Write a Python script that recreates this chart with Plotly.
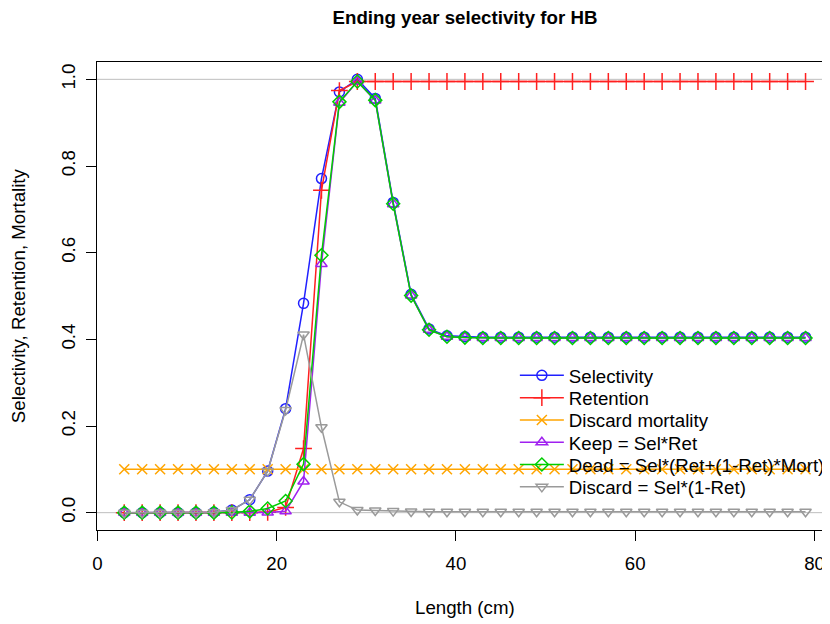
import plotly.graph_objects as go

# ---------------- data ----------------
length_cm = [3, 5, 7, 9, 11, 13, 15, 17, 19, 21, 23, 25, 27, 29, 31, 33, 35, 37, 39,
             41, 43, 45, 47, 49, 51, 53, 55, 57, 59, 61, 63, 65, 67, 69, 71, 73, 75, 77, 79]

selectivity = [0, 0, 0, 0, 0, 0.001, 0.006, 0.030, 0.096, 0.240, 0.483, 0.771, 0.971,
               1.000, 0.956, 0.716, 0.504, 0.424, 0.408,
               0.406, 0.405, 0.405, 0.405, 0.405, 0.405, 0.405, 0.405, 0.405, 0.405,
               0.405, 0.405, 0.405, 0.405, 0.405, 0.405, 0.405, 0.405, 0.405, 0.405]

retention = [0, 0, 0, 0, 0, 0, 0, 0, 0.001, 0.012, 0.148, 0.744, 0.974,
             0.995, 0.995, 0.995, 0.995, 0.995, 0.995,
             0.995, 0.995, 0.995, 0.995, 0.995, 0.995, 0.995, 0.995, 0.995, 0.995,
             0.995, 0.995, 0.995, 0.995, 0.995, 0.995, 0.995, 0.995, 0.995, 0.995]

discard_mortality = [0.1, 0.1, 0.1, 0.1, 0.1, 0.1, 0.1, 0.1, 0.1, 0.1, 0.1, 0.1, 0.1,
                     0.1, 0.1, 0.1, 0.1, 0.1, 0.1, 0.1, 0.1, 0.1, 0.1, 0.1, 0.1, 0.1,
                     0.1, 0.1, 0.1, 0.1, 0.1, 0.1, 0.1, 0.1, 0.1, 0.1, 0.1, 0.1, 0.1]

keep = [0, 0, 0, 0, 0, 0, 0, 0, 0.0001, 0.003, 0.072, 0.574, 0.946,
        0.995, 0.951, 0.712, 0.501, 0.422, 0.406,
        0.404, 0.403, 0.403, 0.403, 0.403, 0.403, 0.403, 0.403, 0.403, 0.403,
        0.403, 0.403, 0.403, 0.403, 0.403, 0.403, 0.403, 0.403, 0.403, 0.403]

dead = [0, 0, 0, 0, 0, 0.0001, 0.0006, 0.003, 0.0096, 0.027, 0.112, 0.594, 0.948,
        0.995, 0.952, 0.713, 0.501, 0.422, 0.406,
        0.404, 0.403, 0.403, 0.403, 0.403, 0.403, 0.403, 0.403, 0.403, 0.403,
        0.403, 0.403, 0.403, 0.403, 0.403, 0.403, 0.403, 0.403, 0.403, 0.403]

discard = [0, 0, 0, 0, 0, 0.001, 0.006, 0.030, 0.096, 0.237, 0.411, 0.197, 0.025,
           0.006, 0.005, 0.0036, 0.0025, 0.002, 0.002,
           0.002, 0.002, 0.002, 0.002, 0.002, 0.002, 0.002, 0.002, 0.002, 0.002,
           0.002, 0.002, 0.002, 0.002, 0.002, 0.002, 0.002, 0.002, 0.002, 0.002]

series_names = ["Selectivity", "Retention", "Discard mortality",
                "Keep = Sel*Ret", "Dead = Sel*(Ret+(1-Ret)*Mort)", "Discard = Sel*(1-Ret)"]
x_ticks = [0, 20, 40, 60, 80]
y_ticks = [0.0, 0.2, 0.4, 0.6, 0.8, 1.0]

# ---------------- styling ----------------
FONT = "Liberation Sans, Arial, Helvetica, sans-serif"
FS = 18.7
colors = ["#2020FF", "#FF2020", "#FFA500", "#A020F0", "#00CD00", "#9A9A9A"]
symbols = ["circle-open", "cross-thin-open", "x-thin-open",
           "triangle-up-open", "diamond-open", "triangle-down-open"]
msizes = [10, 12, 10, 10, 10, 10]

# the page adds an 8px body margin, so the figure is drawn 8px smaller
OFF = 8
W, H = 830 - OFF, 624 - OFF
L, R, T, B = 97 - OFF, 0, 62 - OFF, 624 - 530
pw, ph = W - L - R, H - T - B

fig = go.Figure()

all_series = [selectivity, retention, discard_mortality, keep, dead, discard]
legend_rows_px = [375.7, 398.0, 420.3, 442.6, 464.9, 487.2]
legend_left_px = 516

for i, (name, ys) in enumerate(zip(series_names, all_series)):
    lg = "legend" if i == 0 else f"legend{i+1}"
    fig.add_trace(go.Scatter(
        x=length_cm, y=ys, name=name, mode="lines+markers",
        line=dict(color=colors[i], width=1.5),
        marker=dict(symbol=symbols[i], size=msizes[i], color=colors[i],
                    line=dict(color=colors[i], width=1.5)),
        legend=lg, showlegend=True, cliponaxis=False,
    ))
    fig.layout[lg] = dict(
        x=(legend_left_px - OFF - L) / pw, xanchor="left",
        y=(H - B - (legend_rows_px[i] - OFF)) / ph, yanchor="middle",
        bgcolor="rgba(0,0,0,0)", borderwidth=0, itemwidth=44,
        font=dict(family=FONT, size=FS, color="black"),
    )

# grey reference lines at 0 and 1
for yv in (0, 1):
    fig.add_shape(type="line", xref="paper", x0=0, x1=1, yref="y", y0=yv, y1=yv,
                  line=dict(color="#BEBEBE", width=1), layer="below")

fig.update_layout(
    width=W, height=H, autosize=False, showlegend=True,
    margin=dict(l=L, r=R, t=T, b=B, pad=0),
    paper_bgcolor="white", plot_bgcolor="white",
    font=dict(family=FONT, size=FS, color="black"),
    title=dict(text="<b>Ending year selectivity for HB</b>",
               x=(465 - OFF) / W, xanchor="center", xref="container",
               y=1 - (17 - OFF) / H, yanchor="middle", yref="container",
               font=dict(family=FONT, size=FS, color="black")),
    xaxis=dict(range=[-0.04, -0.04 + pw / 8.989], tickvals=x_ticks,
               ticks="outside", ticklen=10, tickwidth=1, tickcolor="black",
               showline=True, linecolor="black", linewidth=1, mirror=True,
               showgrid=False, zeroline=False, ticklabelstandoff=7),
    yaxis=dict(range=[-0.04, 1.04], tickvals=y_ticks, tickformat=".1f",
               tickangle=-90,
               ticks="outside", ticklen=10, tickwidth=1, tickcolor="black",
               showline=True, linecolor="black", linewidth=1, mirror=False,
               showgrid=False, zeroline=False, ticklabelstandoff=4),
    annotations=[
        dict(text="Length (cm)", xref="paper", yref="paper",
             x=(466 - OFF - L) / pw, y=(H - B - (607 - OFF)) / ph,
             xanchor="center", yanchor="middle", showarrow=False,
             font=dict(family=FONT, size=FS, color="black")),
        dict(text="Selectivity, Retention, Mortality", xref="paper", yref="paper",
             x=(18 - OFF - L) / pw, y=0.5, textangle=-90,
             xanchor="center", yanchor="middle", showarrow=False,
             font=dict(family=FONT, size=FS, color="black")),
    ],
)

fig.write_html("out.html")
